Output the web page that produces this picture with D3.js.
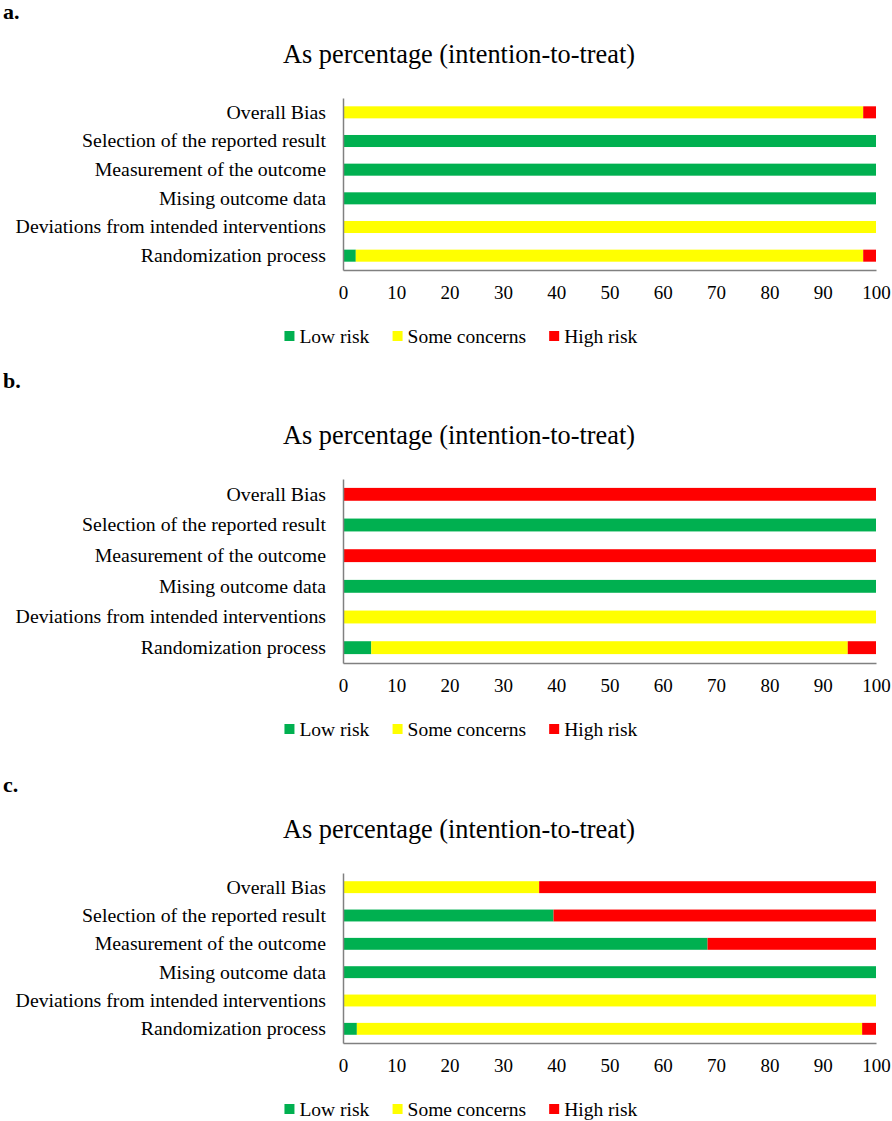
<!DOCTYPE html>
<html>
<head>
<meta charset="utf-8">
<script src="https://cdn.jsdelivr.net/npm/d3@7"></script>
<style>
  body { margin: 0; background: #fff; }
  text { font-family: "Liberation Serif", "Times New Roman", serif; fill: #000; }
</style>
</head>
<body>
<div id="wrapper"></div>
<script>
// 1. Data
const domains = [
    "Overall Bias",
    "Selection of the reported result",
    "Measurement of the outcome",
    "Mising outcome data",
    "Deviations from intended interventions",
    "Randomization process",
]
const riskKeys = ["low", "some", "high"]
const riskNames = ["Low risk", "Some concerns", "High risk"]
const riskColors = ["#00b050", "#ffff00", "#ff0000"]
const xTicks = [0, 10, 20, 30, 40, 50, 60, 70, 80, 90, 100]
const chartTitle = "As percentage (intention-to-treat)"
const panelTags = ["a.", "b.", "c."]

// percentages per domain, same order as domains (top to bottom)
const lowA  = [0, 100, 100, 100, 0, 2.4]
const someA = [97.6, 0, 0, 0, 100, 95.2]
const highA = [2.4, 0, 0, 0, 0, 2.4]

const lowB  = [0, 100, 0, 100, 0, 5.3]
const someB = [0, 0, 0, 0, 100, 89.4]
const highB = [100, 0, 100, 0, 0, 5.3]

const lowC  = [0, 39.5, 68.4, 100, 0, 2.6]
const someC = [36.8, 0, 0, 0, 100, 94.8]
const highC = [63.2, 60.5, 31.6, 0, 0, 2.6]

const panelData = [
    [lowA, someA, highA],
    [lowB, someB, highB],
    [lowC, someC, highC],
]

// 2. dims
const dims = { width: 892, height: 1121, plotLeft: 343, plotRight: 876 }
// vertical layout of the three panels
const layout = [
    { top: 98, bottom: 270, tagY: 19 },
    { top: 479, bottom: 663, tagY: 388 },
    { top: 873, bottom: 1043, tagY: 792 },
]

// 3. canvas
const wrapper = d3.select("#wrapper")
    .append("svg")
    .attr("width", dims.width)
    .attr("height", dims.height)

const xScale = d3.scaleLinear()
    .domain([0, 100])
    .range([dims.plotLeft, dims.plotRight])

const colorScale = d3.scaleOrdinal()
    .domain(riskKeys)
    .range(riskColors)

const stack = d3.stack().keys(riskKeys)

function drawPanel(i) {
    const lay = layout[i]
    const [low, some, high] = panelData[i]
    const rows = domains.map((d, j) => ({ domain: d, low: low[j], some: some[j], high: high[j] }))
    const series = stack(rows)

    const g = wrapper.append("g")

    g.append("text")
        .attr("x", 3)
        .attr("y", lay.tagY)
        .style("font-size", "22px")
        .style("font-weight", "bold")
        .text(panelTags[i])

    g.append("text")
        .attr("x", 459)
        .attr("y", lay.top - 35)
        .attr("text-anchor", "middle")
        .style("font-size", "26.3px")
        .text(chartTitle)

    const yScale = d3.scaleBand()
        .domain(domains)
        .range([lay.top, lay.bottom])
        .paddingInner(0.58)
        .paddingOuter(0.29)

    // bars
    g.append("g")
        .selectAll("g")
        .data(series)
        .join("g")
        .attr("fill", d => colorScale(d.key))
        .selectAll("rect")
        .data(d => d)
        .join("rect")
        .attr("x", d => xScale(d[0]))
        .attr("y", d => yScale(d.data.domain))
        .attr("width", d => xScale(d[1]) - xScale(d[0]))
        .attr("height", yScale.bandwidth())

    // y axis
    const yAxis = g.append("g")
        .attr("transform", `translate(${dims.plotLeft},0)`)
        .call(d3.axisLeft(yScale).tickSize(0).tickPadding(17).tickSizeOuter(0))
    yAxis.select(".domain").attr("stroke", "#808080").attr("stroke-width", 1.5)
    yAxis.selectAll("text").style("font-size", "19.8px").attr("font-family", null)

    // x axis
    const xAxis = g.append("g")
        .attr("transform", `translate(0,${lay.bottom})`)
        .call(d3.axisBottom(xScale).tickValues(xTicks).tickSize(0).tickPadding(16).tickSizeOuter(0))
    xAxis.select(".domain").attr("stroke", "#808080").attr("stroke-width", 1.5)
    xAxis.selectAll("text").style("font-size", "19px").attr("font-family", null)

    // legend
    const legend = g.append("g")
        .attr("transform", `translate(0,${lay.bottom + 66})`)
    const items = legend.selectAll("g")
        .data(riskKeys)
        .join("g")
    items.append("rect")
        .attr("y", -5)
        .attr("width", 10)
        .attr("height", 10)
        .attr("fill", d => colorScale(d))
    items.append("text")
        .attr("x", 15)
        .attr("dy", "0.35em")
        .style("font-size", "19.5px")
        .text((d, j) => riskNames[j])

    // place items side by side, centred
    let cursor = 0
    const offsets = []
    items.each(function () {
        offsets.push(cursor)
        cursor += this.getBBox().width + 23
    })
    const total = cursor - 23
    const start = 461 - total / 2
    items.attr("transform", (d, j) => `translate(${start + offsets[j]},0)`)
}

panelTags.forEach((t, i) => drawPanel(i))
</script>
</body>
</html>
